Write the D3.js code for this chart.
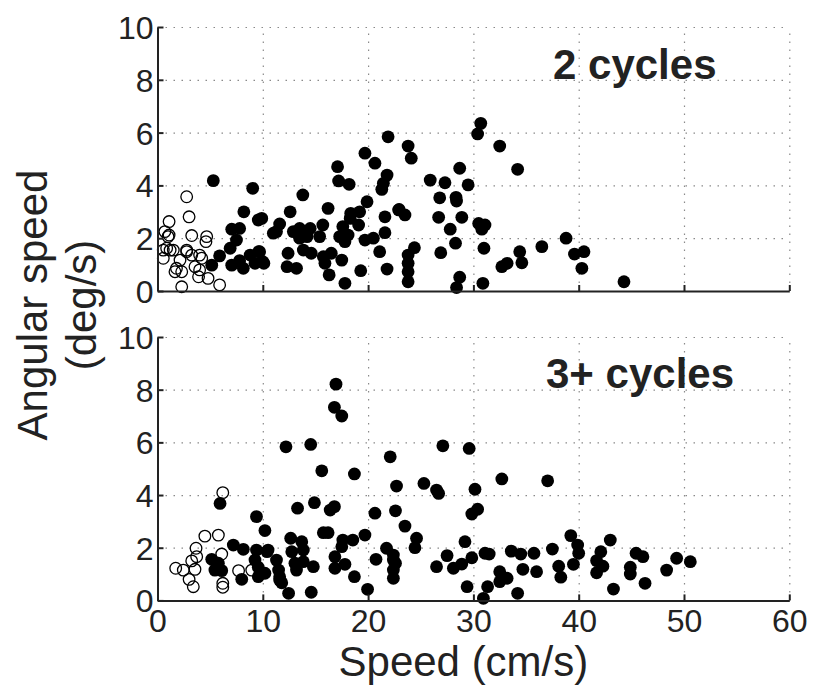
<!DOCTYPE html>
<html>
<head>
<meta charset="utf-8">
<script src="https://cdn.jsdelivr.net/npm/d3@7"></script>
<style>
  body { margin: 0; background: #fff; }
  svg text { font-family: "Liberation Sans", Arial, Helvetica, sans-serif; fill: #222; }
</style>
</head>
<body>
<svg id="chart"></svg>
<script>
// speed (cm/s), angular speed (deg/s)
const xTicks = [0, 10, 20, 30, 40, 50, 60];
const yTicks = [0, 2, 4, 6, 8, 10];

const twoOpen = [
  [0.7, 2.25], [1.1, 2.63], [1.1, 2.12], [0.55, 1.55], [0.87, 1.62], [1.2, 1.55], [1.5, 1.55],
  [0.55, 1.24], [2.77, 3.57], [3.0, 2.81], [3.25, 2.1], [4.67, 2.06], [4.6, 1.87], [2.77, 1.49],
  [3.25, 1.36], [4.0, 1.36], [2.14, 1.17], [4.2, 1.24], [1.8, 0.86], [1.66, 0.73], [2.3, 0.73],
  [3.56, 0.92], [4.0, 0.8], [3.9, 0.54], [4.8, 0.48], [5.9, 0.23], [2.3, 0.16], [2.77, 1.55],
  [1.0, 2.06]
];

const twoFilled = [
  [5.3, 4.18], [9.04, 3.89], [8.2, 3.0], [9.57, 2.69], [11.3, 2.25], [7.05, 2.34], [7.8, 2.37],
  [7.5, 1.93], [6.9, 1.62], [5.9, 1.33], [5.15, 0.98], [7.05, 0.98], [7.8, 1.15], [8.8, 1.36],
  [9.6, 1.49], [9.26, 1.05], [10.1, 1.05], [8.15, 0.86],
  [21.9, 5.84], [19.7, 5.22], [20.65, 4.84], [17.1, 4.71], [21.8, 4.39], [17.2, 4.17], [18.2, 4.04],
  [21.45, 4.08], [21.3, 3.85], [13.8, 3.64], [19.9, 3.38], [12.6, 3.0], [16.2, 3.13], [18.35, 2.94],
  [19.2, 3.0], [18.3, 2.75], [19.1, 2.5], [21.6, 2.81], [22.9, 3.07], [9.9, 2.75], [11.6, 2.54],
  [11.0, 2.19], [12.9, 2.25], [13.5, 2.37], [14.5, 2.37], [15.7, 2.5], [13.5, 2.0], [14.2, 2.06],
  [15.4, 2.06], [17.6, 2.44], [17.3, 2.06], [18.1, 2.12], [17.8, 1.87], [19.7, 1.93], [20.5, 2.0],
  [21.6, 2.21], [9.7, 1.49], [10.0, 1.11], [12.4, 1.43], [13.85, 1.55], [14.6, 1.43], [15.75, 1.3],
  [16.5, 1.43], [15.9, 1.05], [17.5, 1.17], [21.1, 1.49], [12.3, 0.92], [13.2, 0.86], [16.3, 0.61],
  [19.3, 0.77], [21.8, 0.83], [17.8, 0.29],
  [30.7, 6.35], [30.4, 5.95], [32.5, 5.49], [23.8, 5.49], [24.1, 5.03], [28.7, 4.65], [34.2, 4.61],
  [25.9, 4.2], [27.3, 4.1], [29.5, 4.02], [26.8, 3.53], [28.35, 3.55], [28.4, 3.41], [22.95, 3.09],
  [23.5, 2.88], [26.7, 2.79], [28.9, 2.79], [27.8, 2.34], [30.5, 2.56], [31.1, 2.5], [30.8, 2.34],
  [28.3, 1.81], [26.9, 1.45], [24.4, 1.64], [23.8, 1.36], [23.8, 1.05], [23.8, 0.73], [23.8, 0.35],
  [31.0, 1.62], [34.4, 1.49], [34.6, 1.07], [33.2, 1.05], [32.7, 0.92], [36.5, 1.68], [28.7, 0.52],
  [28.4, 0.13], [30.9, 0.29],
  [38.8, 2.0], [39.6, 1.4], [40.5, 1.49], [40.3, 0.86], [44.3, 0.35]
];

const threeOpen = [
  [6.2, 4.09], [5.78, 2.48], [4.5, 2.44], [3.66, 1.98], [3.72, 1.66], [3.25, 1.5], [6.1, 1.76],
  [1.73, 1.22], [2.45, 1.15], [3.56, 1.18], [3.0, 0.8], [3.4, 0.52], [7.7, 1.13], [6.2, 0.65],
  [6.2, 0.5], [8.95, 1.15]
];

const threeFilled = [
  [5.94, 3.68], [9.4, 3.18], [10.2, 2.65], [7.2, 2.1], [8.15, 1.94], [5.15, 1.56], [5.78, 1.41],
  [5.45, 1.15], [6.1, 1.13], [8.0, 0.8], [9.4, 1.91], [10.5, 1.91], [9.26, 1.53], [9.57, 1.26],
  [9.57, 0.9], [11.3, 1.53], [11.6, 0.77],
  [16.95, 8.21], [16.8, 7.33], [17.5, 7.0], [12.2, 5.83], [14.55, 5.92], [22.1, 5.45], [15.6, 4.92],
  [18.7, 4.8], [22.7, 4.34], [13.3, 3.5], [14.9, 3.71], [16.4, 3.43], [16.8, 3.56], [20.65, 3.31],
  [22.6, 3.4], [12.65, 2.36], [13.7, 2.23], [15.75, 2.57], [16.2, 2.57], [17.6, 2.29], [18.55, 2.29],
  [19.7, 2.48], [17.5, 2.04], [21.75, 1.98], [10.4, 1.85], [12.75, 1.85], [13.85, 1.91], [13.05, 1.41],
  [13.85, 1.47], [14.8, 1.28], [16.85, 1.66], [17.8, 1.37], [20.75, 1.56], [22.4, 1.53], [16.85, 1.22],
  [11.5, 1.15], [13.2, 1.15], [10.2, 1.03], [11.6, 0.9], [11.8, 0.67], [12.45, 0.27], [14.6, 0.31],
  [18.7, 0.9], [19.95, 0.42], [22.4, 1.15], [22.4, 0.84],
  [27.1, 5.87], [29.6, 5.77], [32.7, 4.61], [25.3, 4.44], [26.5, 4.19], [26.7, 4.06], [30.15, 4.22],
  [30.4, 3.46], [29.85, 3.28], [23.5, 2.82], [24.6, 2.36], [24.45, 2.0], [29.2, 2.23], [22.4, 1.72],
  [22.6, 1.41], [26.5, 1.28], [27.5, 1.7], [28.1, 1.22], [28.9, 1.38], [29.85, 1.62], [31.1, 1.79],
  [31.5, 1.76], [33.6, 1.87], [34.5, 1.76], [35.75, 1.79], [32.5, 1.09], [33.2, 0.84], [32.5, 0.71],
  [34.7, 1.18], [36.0, 1.09], [29.4, 0.52], [31.35, 0.52], [30.95, 0.08], [34.2, 0.27],
  [37.05, 4.54], [39.25, 2.46], [39.9, 2.1], [40.0, 1.79], [39.5, 1.37], [37.5, 1.95], [38.1, 1.3],
  [38.3, 0.88], [43.0, 2.29], [42.1, 1.85], [41.7, 1.51], [42.3, 1.3], [41.7, 1.05], [43.3, 0.43],
  [45.45, 1.79], [46.1, 1.66], [44.9, 1.26], [44.9, 1.0], [46.3, 0.65], [48.35, 1.15], [49.3, 1.6],
  [50.6, 1.47]
];

const panels = [
  { label: '2 cycles', open: twoOpen, filled: twoFilled, top: 27, bottom: 291, xLabels: false, lx: 553, ly: 79 },
  { label: '3+ cycles', open: threeOpen, filled: threeFilled, top: 337, bottom: 600.4, xLabels: true, lx: 546, ly: 388 }
];

const width = 815;
const height = 688;
const left = 157.5;
const right = 789.3;

const svg = d3.select('#chart')
  .attr('width', width)
  .attr('height', height);

const xScale = d3.scaleLinear().domain([0, 60]).range([left, right]);

panels.forEach((p) => {
  const yScale = d3.scaleLinear().domain([0, 10]).range([p.bottom, p.top]);
  const g = svg.append('g');
  const h = p.bottom - p.top;

  // dotted grid
  g.append('g')
    .attr('transform', `translate(0, ${p.bottom})`)
    .call(d3.axisBottom(xScale).tickValues(xTicks.slice(1)).tickSize(-h).tickFormat(''))
    .call(s => s.select('.domain').remove())
    .selectAll('line')
      .attr('stroke', '#8a8a8a')
      .attr('stroke-width', 1.2)
      .attr('stroke-dasharray', '1.5,6.5');

  g.append('g')
    .attr('transform', `translate(${left}, 0)`)
    .call(d3.axisLeft(yScale).tickValues(yTicks.slice(1)).tickSize(-(right - left)).tickFormat(''))
    .call(s => s.select('.domain').remove())
    .selectAll('line')
      .attr('stroke', '#8a8a8a')
      .attr('stroke-width', 1.2)
      .attr('stroke-dasharray', '1.5,6.5');

  // markers
  g.append('g').selectAll('circle')
    .data(p.open)
    .enter().append('circle')
      .attr('cx', d => xScale(d[0]))
      .attr('cy', d => yScale(d[1]))
      .attr('r', 5.8)
      .attr('fill', 'none')
      .attr('stroke', '#000')
      .attr('stroke-width', 1.3);

  g.append('g').selectAll('circle')
    .data(p.filled)
    .enter().append('circle')
      .attr('cx', d => xScale(d[0]))
      .attr('cy', d => yScale(d[1]))
      .attr('r', 6.4)
      .attr('fill', '#000');

  // axes, ticks pointing inward
  const xAxis = g.append('g')
    .attr('transform', `translate(0, ${p.bottom})`)
    .call(d3.axisBottom(xScale).tickValues(xTicks).tickSizeInner(-6).tickSizeOuter(0)
      .tickPadding(10).tickFormat(p.xLabels ? d3.format('d') : ''));

  const yAxis = g.append('g')
    .attr('transform', `translate(${left}, 0)`)
    .call(d3.axisLeft(yScale).tickValues(yTicks).tickSizeInner(-6).tickSizeOuter(0)
      .tickPadding(5).tickFormat(d3.format('d')));

  [xAxis, yAxis].forEach((a) => {
    a.select('.domain').attr('stroke', '#222').attr('stroke-width', 2);
    a.selectAll('.tick line').attr('stroke', '#222').attr('stroke-width', 2);
    a.selectAll('.tick text')
      .style('font-family', '"Liberation Sans", Arial, sans-serif')
      .style('font-size', '32px')
      .attr('fill', '#222');
  });
  xAxis.selectAll('.tick text').attr('y', 0).attr('dy', '32px');
  yAxis.selectAll('.tick text').attr('x', -4).attr('dy', '0.36em');

  g.append('text')
    .attr('x', p.lx)
    .attr('y', p.ly)
    .style('font-size', '42px')
    .style('font-weight', 'bold')
    .attr('fill', '#111')
    .text(p.label);
});

svg.append('text')
  .attr('x', (left + right) / 2 - 10)
  .attr('y', 676)
  .attr('text-anchor', 'middle')
  .style('font-size', '42px')
  .text('Speed (cm/s)');

const yTitle = svg.append('text')
  .attr('transform', 'translate(47, 305) rotate(-90)')
  .attr('text-anchor', 'middle')
  .style('font-size', '42px');
yTitle.append('tspan').attr('x', 0).attr('y', 0).text('Angular speed');
yTitle.append('tspan').attr('x', 0).attr('y', 49).text('(deg/s)');
</script>
</body>
</html>
